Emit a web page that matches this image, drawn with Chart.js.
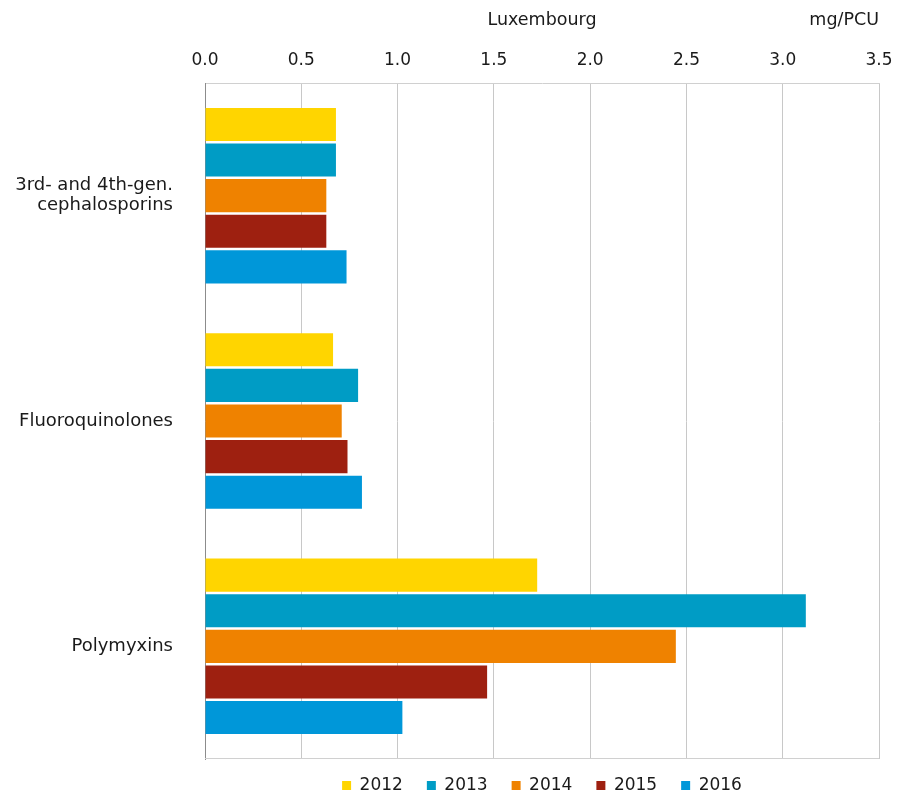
<!DOCTYPE html>
<html>
<head>
<meta charset="utf-8">
<script src="https://cdn.jsdelivr.net/npm/chart.js@4/dist/chart.umd.min.js"></script>
<style>
  html, body { margin: 0; padding: 0; background: #fff; }
  canvas { display: block; }
</style>
</head>
<body>
<canvas id="chart" width="897" height="796"></canvas>
<script>
// data (mg/PCU, Luxembourg)
const categories = [['3rd- and 4th-gen.', 'cephalosporins'], 'Fluoroquinolones', 'Polymyxins'];
const years = ['2012', '2013', '2014', '2015', '2016'];
const v2012 = [0.68, 0.665, 1.725];
const v2013 = [0.68, 0.795, 3.12];
const v2014 = [0.63, 0.71, 2.445];
const v2015 = [0.63, 0.74, 1.465];
const v2016 = [0.735, 0.815, 1.025];
const xTicks = [0, 0.5, 1, 1.5, 2, 2.5, 3, 3.5];

const colors = ['#FFD500', '#009CC5', '#EF8200', '#9E2010', '#0097D9'];
const FONT = 'DejaVu Sans';
const TXT = '#1a1a1a';

// "Luxembourg" sits on the same line as the axis unit, plus the frame's bottom edge
const titleOnAxisLine = {
    id: 'titleOnAxisLine',
    afterDraw(chart) {
        const ctx = chart.ctx;
        const area = chart.chartArea;
        const x = chart.scales.x;
        ctx.save();
        ctx.strokeStyle = '#d0d0d0';
        ctx.lineWidth = 1;
        ctx.beginPath();
        ctx.moveTo(area.left, Math.round(area.bottom) - 0.5);
        ctx.lineTo(area.right, Math.round(area.bottom) - 0.5);
        ctx.stroke();
        ctx.font = '17.5px "' + FONT + '"';
        ctx.fillStyle = TXT;
        ctx.textAlign = 'center';
        ctx.textBaseline = 'middle';
        ctx.fillText('Luxembourg', (area.left + area.right) / 2, x.top + 10 + 10.5);
        ctx.restore();
    }
};

const series = [v2012, v2013, v2014, v2015, v2016];

new Chart(document.getElementById('chart'), {
    type: 'bar',
    data: {
        labels: categories,
        datasets: years.map((y, i) => ({
            label: y,
            data: series[i],
            backgroundColor: colors[i],
            borderWidth: 0,
            categoryPercentage: 0.79,
            barPercentage: 0.93
        }))
    },
    options: {
        indexAxis: 'y',
        responsive: false,
        devicePixelRatio: 1,
        animation: false,
        layout: { padding: { left: 0, right: 18, top: 0, bottom: 0 } },
        plugins: {
            legend: {
                position: 'bottom',
                fullSize: false,
                maxHeight: 37,
                labels: {
                    boxWidth: 9,
                    boxHeight: 9,
                    padding: 24,
                    color: TXT,
                    font: { family: FONT, size: 17 }
                }
            },
            title: { display: false },
            tooltip: { enabled: false }
        },
        scales: {
            x: {
                position: 'top',
                min: 0,
                max: 3.5,
                afterBuildTicks: (s) => { s.ticks = xTicks.map(v => ({ value: v })); },
                ticks: {
                    padding: 0,
                    color: TXT,
                    font: { family: FONT, size: 17 },
                    callback: (v) => Number(v).toFixed(1)
                },
                grid: { color: '#c8c8c8', tickLength: 12, tickColor: 'rgba(0,0,0,0)' },
                border: { color: '#d0d0d0' },
                title: {
                    display: true,
                    text: 'mg/PCU',
                    align: 'end',
                    color: TXT,
                    font: { family: FONT, size: 17.5 },
                    padding: { top: 10, bottom: 0 }
                },
                afterFit: (s) => { s.height = 83; }
            },
            xb: {
                position: 'bottom',
                axis: 'x',
                min: 0,
                max: 3.5,
                ticks: { display: false },
                grid: { drawOnChartArea: false, drawTicks: false },
                border: { display: false },
                afterFit: (s) => { s.height = -6; }
            },
            y: {
                ticks: {
                    padding: 0,
                    color: TXT,
                    font: { family: FONT, size: 18, lineHeight: 1.12 }
                },
                grid: { drawOnChartArea: false, tickLength: 32, tickColor: 'rgba(0,0,0,0)' },
                border: { color: '#8c8c8c' },
                afterFit: (s) => { s.width = 205; }
            }
        }
    },
    plugins: [titleOnAxisLine]
});
</script>
</body>
</html>
